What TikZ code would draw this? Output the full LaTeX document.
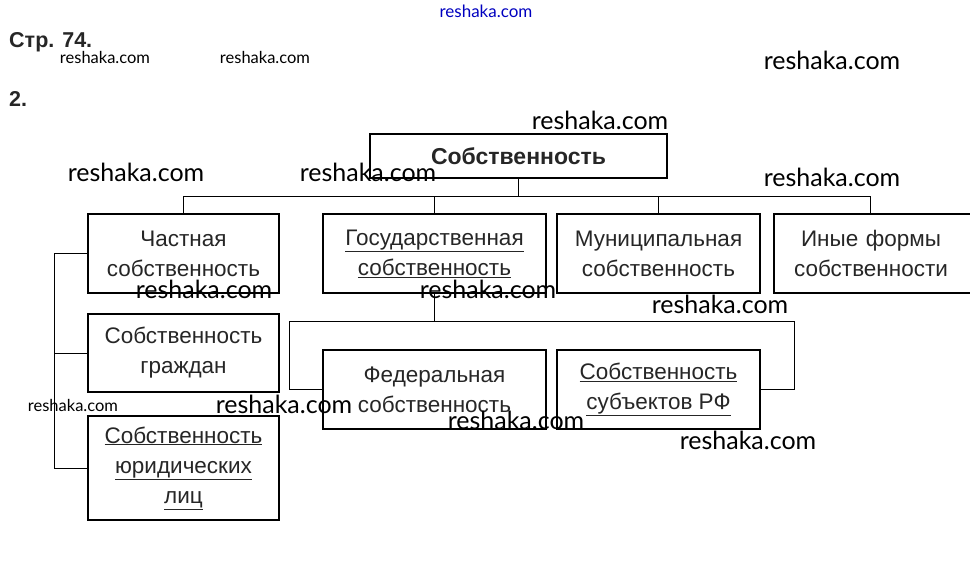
\documentclass[tikz,border=0pt]{standalone}
\usepackage{fontspec}
\setmainfont{Liberation Sans}
\newfontfamily\wmfont{Lato}
\begin{document}
\begin{tikzpicture}[x=1pt,y=-1pt,
  box/.style={draw, line width=2pt, inner sep=0pt, align=center, text=black!85,
    font=\fontsize{22.5}{30}\selectfont},
  conn/.style={line width=1pt},
  wm/.style={inner sep=0pt, font=\wmfont\fontsize{25}{25}\selectfont},
  wms/.style={inner sep=0pt, font=\wmfont\fontsize{16.5}{16.5}\selectfont},
  hdr/.style={inner sep=0pt, anchor=base west, font=\bfseries\fontsize{21.5}{21.5}\selectfont, text=black!85}]
\useasboundingbox (0,0) rectangle (970,582);
\clip (0,0) rectangle (970,582);
% header
\node[hdr] (str) at (9,47) {Стр. 74.};
\node[hdr] (two) at (9,106) {2.};
% boxes
\node[box, font=\bfseries\fontsize{23}{30}\selectfont, minimum width=297pt, minimum height=44pt] (top) at (518.5,156) {Собственность};
\node[box, minimum width=191pt, minimum height=79pt] (chast) at (183.5,253.5) {Частная\\собственность};
\node[box, minimum width=223pt, minimum height=79pt] (gos) at (434.5,253.5) {\underline{Государственная}\\\underline{собственность}};
\node[box, minimum width=203pt, minimum height=79pt] (mun) at (658.5,253.5) {Муниципальная\\собственность};
\node[box, minimum width=200pt, minimum height=79pt, text width=190pt] (inye) at (874,253.5) {\hspace*{-6pt}Иные формы\\\hspace*{-6pt}собственности};
\node[box, minimum width=191pt, minimum height=78pt] (grazh) at (183.5,353) {Собственность\\граждан};
\node[box, minimum width=191pt, minimum height=104pt] (yur) at (183.5,468) {\underline{Собственность}\\\underline{юридических}\\\underline{лиц}};
\node[box, minimum width=223pt, minimum height=79pt] (fed) at (434.5,389.5) {Федеральная\\собственность};
\node[box, minimum width=203pt, minimum height=79pt] (subj) at (658.5,389.5) {\underline{Собственность}\\\underline{субъектов РФ}};
% connectors
\coordinate (bus) at (0,196);
\draw[conn] (top.south) -- (top.south |- bus);
\draw[conn] (chast.north |- bus) -- (870.5,196) coordinate (busr);
\draw[conn] (chast.north) -- (chast.north |- bus);
\draw[conn] (gos.north) -- (gos.north |- bus);
\draw[conn] (mun.north) -- (mun.north |- bus);
\draw[conn] (inye.north -| busr) -- (busr);
\coordinate (lbus) at (54,253.5);
\draw[conn] (chast.west) -- (lbus) |- (yur.west);
\draw[conn] (lbus |- grazh.west) -- (grazh.west);
\coordinate (gbus) at (0,321);
\coordinate (bl) at (289,321);
\coordinate (br) at (794,321);
\draw[conn] (gos.south) -- (gos.south |- gbus);
\draw[conn] (bl) -- (br);
\draw[conn] (bl) |- (fed.west);
\draw[conn] (br) |- (subj.east);
% watermarks
\node[inner sep=0pt, font=\wmfont\fontsize{17}{17}\selectfont, text=blue!75!black] (w1) at (486,11) {reshaka.com};
\node[wms] (w2) at (105,57) {reshaka.com};
\node[wms] (w3) at (265,57) {reshaka.com};
\node[wm] (w4) at (832,60) {reshaka.com};
\node[wm] (w5) at (600,120) {reshaka.com};
\node[wm] (w6) at (136,172) {reshaka.com};
\node[wm] (w7) at (368,172) {reshaka.com};
\node[wm] (w8) at (832,177) {reshaka.com};
\node[wm] (w9) at (204,289) {reshaka.com};
\node[wm] (w10) at (488,289) {reshaka.com};
\node[wm] (w11) at (720,304) {reshaka.com};
\node[wms] (w12) at (73,405) {reshaka.com};
\node[wm] (w13) at (284,404) {reshaka.com};
\node[wm] (w14) at (516,420) {reshaka.com};
\node[wm] (w15) at (748,440) {reshaka.com};
\end{tikzpicture}
\end{document}
